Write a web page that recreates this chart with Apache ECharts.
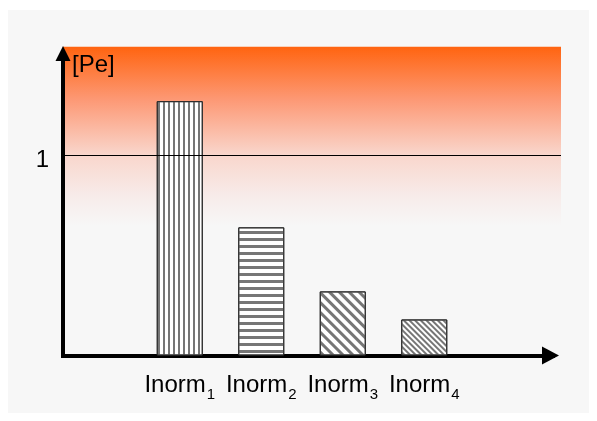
<!DOCTYPE html>
<html><head><meta charset="utf-8">
<script src="https://cdn.jsdelivr.net/npm/echarts@6/dist/echarts.min.js"></script>
<style>
html,body{margin:0;padding:0;background:#fff;}
#bg{position:absolute;left:8px;top:10px;width:581px;height:403px;background:#f7f7f7;}
#chart{position:absolute;left:0;top:0;width:597px;height:421px;}
</style></head><body>
<div id="bg"></div><div id="chart"></div>
<script>
const categories = ['Inorm1', 'Inorm2', 'Inorm3', 'Inorm4'];
const values = [1.27, 0.64, 0.32, 0.18];
const yTickLabels = ['1'];
const yMax = 1.542;
const yAxisName = '[Pe]';

const FONT = "'Liberation Sans', Arial, sans-serif";
const decals = [
  {symbol: 'rect', symbolSize: 1, color: '#767676', dashArrayX: [1, 0], dashArrayY: [2, 2.6], rotation: Math.PI / 2},
  {symbol: 'rect', symbolSize: 1, color: '#767676', dashArrayX: [1, 0], dashArrayY: [2.2, 3.2], rotation: 0},
  {symbol: 'rect', symbolSize: 1, color: '#767676', dashArrayX: [1, 0], dashArrayY: [2.6, 3.2], rotation: Math.PI / 4},
  {symbol: 'rect', symbolSize: 1, color: '#767676', dashArrayX: [1, 0], dashArrayY: [1.5, 1.6], rotation: Math.PI / 4}
];

const chart = echarts.init(document.getElementById('chart'), null, {renderer: 'canvas'});
const gridBase = {outerBoundsMode: 'none', containLabel: false};
chart.setOption({
  backgroundColor: 'transparent',
  animation: false,
  grid: [
    Object.assign({left: 63, right: 36, top: 46.7, bottom: 65.5, show: true, borderWidth: 0,
      backgroundColor: {type: 'linear', x: 0, y: 0, x2: 0, y2: 1, colorStops: [
        {offset: 0, color: '#ff6410'},
        {offset: 0.17, color: '#fd9874'},
        {offset: 0.35, color: '#f9d6cc'},
        {offset: 0.48, color: '#f7ebe9'},
        {offset: 0.58, color: '#f7f7f7'},
        {offset: 1, color: '#f7f7f7'}
      ]}}, gridBase),
    Object.assign({left: 139, right: 132, top: 46.7, bottom: 65.5}, gridBase),
    Object.assign({left: 63, right: 44, top: 52, bottom: 65.5}, gridBase)
  ],
  xAxis: [
    {gridIndex: 0, type: 'value', show: false, min: 0, max: 1},
    {gridIndex: 1, type: 'category', data: categories,
      axisLine: {show: false}, axisTick: {show: false}, splitLine: {show: false},
      axisLabel: {margin: 12.5, interval: 0,
        formatter: v => '{m|' + v.replace(/(\d+)$/, '}{s|$1}'),
        rich: {
          m: {fontSize: 24, fontFamily: FONT, color: '#000'},
          s: {fontSize: 15, fontFamily: FONT, color: '#000', padding: [19.6, 0, 0, 1]}
        }}},
    {gridIndex: 2, type: 'value', min: 0, max: 1,
      axisLine: {show: true, symbol: ['none', 'triangle'], symbolSize: [18, 17], symbolOffset: [0, -2.5],
        lineStyle: {color: '#000', width: 4, cap: 'square'}},
      axisTick: {show: false}, axisLabel: {show: false}, splitLine: {show: false}}
  ],
  yAxis: [
    {gridIndex: 0, type: 'value', min: 0, max: yMax, interval: 1, z: 10,
      axisLine: {show: false}, axisTick: {show: false},
      axisLabel: {margin: 14,
        formatter: v => (yTickLabels.indexOf(String(v)) >= 0 ? '{v|' + v + '}' : ''),
        rich: {v: {fontSize: 24, fontFamily: FONT, color: '#000', padding: [10, 0, 0, 0]}}},
      splitLine: {show: true, showMinLine: false, showMaxLine: false, lineStyle: {color: '#000', width: 1}}},
    {gridIndex: 1, type: 'value', min: 0, max: yMax, show: false},
    {gridIndex: 2, type: 'value', min: 0, max: 1, name: yAxisName, nameLocation: 'end', nameGap: -1,
      nameTextStyle: {fontSize: 24, fontFamily: FONT, color: '#000', align: 'left', verticalAlign: 'top', padding: [0, 0, 0, 9]},
      axisLine: {show: true, symbol: ['none', 'triangle'], symbolSize: [15, 15], symbolOffset: [0, -1.5],
        lineStyle: {color: '#000', width: 4, cap: 'square'}},
      axisTick: {show: false}, axisLabel: {show: false}, splitLine: {show: false}}
  ],
  series: [{
    type: 'bar', xAxisIndex: 1, yAxisIndex: 1, barWidth: 46,
    data: values.map((v, i) => ({value: v, itemStyle: {decal: decals[i]}})),
    itemStyle: {color: '#ffffff', borderColor: '#2a2a2a', borderWidth: 1}
  }]
});
</script></body></html>
